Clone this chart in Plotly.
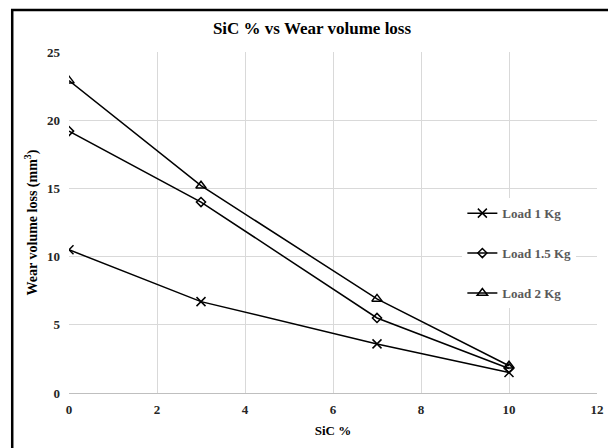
import plotly.graph_objects as go

sic = [0, 3, 7, 10]
load_1 = [10.5, 6.7, 3.6, 1.5]
load_1_5 = [19.2, 14.0, 5.5, 1.8]
load_2 = [22.9, 15.2, 6.9, 2.0]
series_names = ["Load 1 Kg", "Load 1.5 Kg", "Load 2 Kg"]
x_ticks = [0, 2, 4, 6, 8, 10, 12]
y_ticks = [0, 5, 10, 15, 20, 25]

font_family = "Liberation Serif"
W, H = 608, 440
L, R, T, B = 61, 17, 44, 54
PW, PH = W - L - R, H - T - B

fig = go.Figure()
symbols = ["x-thin-open", "diamond-open", "triangle-up-open"]
sizes = [9, 7, 9]
for i, (name, vals) in enumerate(zip(series_names, [load_1, load_1_5, load_2])):
    fig.add_trace(go.Scatter(
        x=sic, y=vals, name=name, mode="lines+markers", legendgroup=name,
        line=dict(color="black", width=1.5),
        marker=dict(symbol=symbols[i], size=sizes[i], color="black",
                    line=dict(color="black", width=1.5)),
    ))

fig.update_layout(
    width=W, height=H,
    margin=dict(l=L, r=R, t=T, b=B),
    paper_bgcolor="white", plot_bgcolor="white",
    font=dict(family=font_family, color="#404040"),
    title=dict(text="SiC % vs Wear volume loss", x=0.5, xanchor="center",
               y=1 - 20 / H, yanchor="middle",
               font=dict(size=17, color="black", family=font_family, weight="bold")),
    legend=dict(x=0.745, y=0.41, xanchor="left", yanchor="middle",
                bgcolor="white", borderwidth=0, itemwidth=30,
                traceorder="grouped", tracegroupgap=20,
                font=dict(size=13, color="#595959", family=font_family, weight="bold")),
    showlegend=True,
)
fig.update_xaxes(
    range=[0, 12], tickvals=x_ticks, showgrid=True, gridcolor="#d9d9d9", gridwidth=1,
    zeroline=False, showline=True, linecolor="#bfbfbf", linewidth=1,
    ticks="", tickfont=dict(size=13, color="#262626", family=font_family, weight="bold"),
    ticklabelstandoff=4,
    title=dict(text="SiC %", standoff=10,
               font=dict(size=13, color="black", family=font_family, weight="bold")),
)
fig.update_yaxes(
    range=[0, 25], tickvals=y_ticks, showgrid=True, gridcolor="#d9d9d9", gridwidth=1,
    zeroline=False, showline=False, ticks="",
    tickfont=dict(size=13, color="#262626", family=font_family, weight="bold"),
    ticklabelstandoff=8,
    title=dict(text="Wear volume loss (mm<sup>3</sup>)", standoff=6,
               font=dict(size=14, color="black", family=font_family, weight="bold")),
)
fig.add_shape(type="rect", xref="paper", yref="paper",
              x0=(4 - L) / PW, x1=1.2, y0=-0.3, y1=1 + (T - 2) / PH,
              line=dict(color="black", width=2.5), layer="above")
fig.write_html("out.html")
